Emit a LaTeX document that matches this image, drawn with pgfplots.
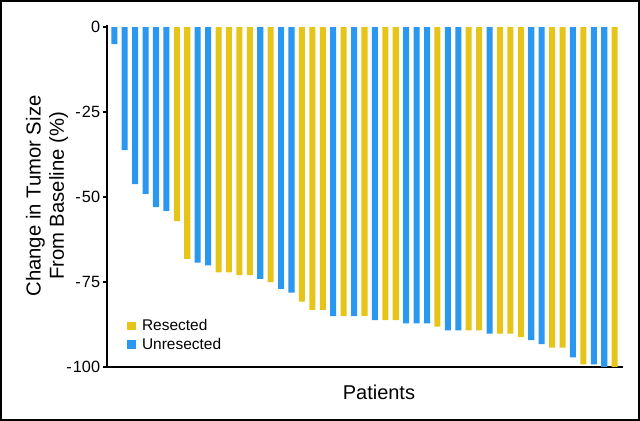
\documentclass[border=0pt]{standalone}
\usepackage{pgfplots}
\pgfplotsset{compat=1.18}
\usepackage{fontspec}
\setmainfont{Liberation Sans}
\definecolor{resyellow}{RGB}{230,196,24}
\definecolor{unresblue}{RGB}{42,151,240}
\begin{document}
\begin{tikzpicture}
\path[use as bounding box] (0,0) rectangle (480pt,315.75pt);
\draw[line width=1.5pt] (0.75pt,0.75pt) rectangle (479.25pt,315pt);
\begin{axis}[
  at={(80.25pt,40.5pt)}, anchor=south west,
  scale only axis, width=387pt, height=256.5pt,
  xmin=0.3, xmax=49.8, ymin=-100, ymax=0.6,
  axis lines*=left,
  axis line style={line width=1.5pt},
  xtick=\empty,
  ytick={-100,-75,-50,-25,0},
  yticklabels={-\kern0.8pt100,-\kern0.8pt75,-\kern0.8pt50,-\kern0.8pt25,0},
  tick style={line width=1.5pt, black},
  major tick length=3pt,
  tick align=outside,
  yticklabel style={font=\fontsize{12.2}{14}\selectfont, inner sep=2pt},
  ylabel={Change in Tumor Size\\From Baseline (\%)},
  ylabel style={at={(axis description cs:-0.1163,0.5)}, anchor=center, rotate=0, align=center, font=\fontsize{15.2}{17.5}\selectfont},
  xlabel={Patients},
  xlabel style={at={(axis description cs:0.527,-0.094)}, anchor=base, font=\fontsize{15}{18}\selectfont},
  legend style={at={(axis description cs:0.038,0.148)}, anchor=north west, draw=none, fill=none, inner sep=0pt,
    font=\fontsize{11.6}{13.5}\selectfont, row sep=0.3pt,
    /tikz/every odd column/.append style={column sep=2.5pt}},
  legend cell align=left,
  legend image code/.code={\fill[#1] (0pt,-3.3pt) rectangle (6.9pt,3.3pt);},
  clip=false,
]
\addplot[ybar, bar width=0.58, bar shift=0pt, draw=none, fill=resyellow] coordinates {
(7,-57.1) (8,-68.2) (11,-72.2) (12,-72.2) (13,-73.0) (14,-73.0) (16,-75.0)
(19,-80.8) (20,-83.2) (21,-83.2) (23,-85.0) (25,-85.0) (27,-86.2) (28,-86.2)
(32,-88.1) (35,-89.2) (36,-89.2) (38,-90.2) (39,-90.2) (40,-91.2)
(43,-94.3) (44,-94.3) (46,-99.2) (49,-100)
};
\addlegendentry{Resected}
\addplot[ybar, bar width=0.58, bar shift=0pt, draw=none, fill=unresblue] coordinates {
(1,-5.0) (2,-36.2) (3,-46.2) (4,-49.1) (5,-53.0) (6,-54.1) (9,-69.3) (10,-70.1)
(15,-74.1) (17,-77.0) (18,-78.1) (22,-85.0) (24,-85.0) (26,-86.2) (29,-87.2)
(30,-87.2) (31,-87.2) (33,-89.2) (34,-89.2) (37,-90.2) (41,-92.1) (42,-93.3)
(45,-97.2) (47,-99.2) (48,-100)
};
\addlegendentry{Unresected}
\end{axis}
\end{tikzpicture}
\end{document}
